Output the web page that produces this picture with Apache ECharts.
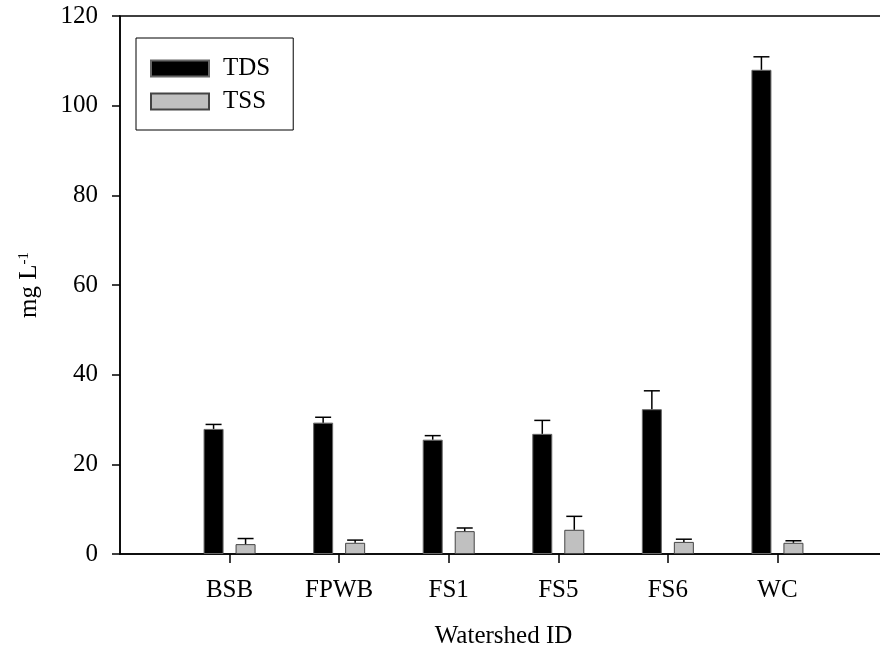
<!DOCTYPE html>
<html>
<head>
<meta charset="utf-8">
<script src="https://cdn.jsdelivr.net/npm/echarts@6/dist/echarts.min.js"></script>
<style>
  html, body { margin: 0; padding: 0; background: #fff; overflow: hidden; }
  /* the frame runs past the right edge of the window, so the canvas is a little wider */
  #chart { width: 890px; height: 655px; }
</style>
</head>
<body>
<div id="chart"></div>
<script>
// Watershed sites, padded with empty slots at both ends of the axis
const categories = ['', 'BSB', 'FPWB', 'FS1', 'FS5', 'FS6', 'WC', ''];

// Mean concentrations (mg/L) and their standard errors
const tdsMean = [null, 27.9, 29.3, 25.5, 26.8, 32.3, 108.0, null];
const tdsErr  = [null, 1.0, 1.2, 0.9, 3.0, 4.1, 2.9, null];
const tssMean = [null, 2.2, 2.5, 5.1, 5.4, 2.7, 2.5, null];
const tssErr  = [null, 1.25, 0.6, 0.7, 3.0, 0.6, 0.45, null];

const yTicks = [0, 20, 40, 60, 80, 100, 120];

const FONT = "'Liberation Serif', 'Times New Roman', serif";
const FS = 25;
const BAR_W = 20;
const BAR_GAP = 0.6;
const CAP_W = 16;

function errorBars(means, errs, side) {
  const data = means.map((m, i) => (m == null ? null : [i, m, errs[i]])).filter(d => d);
  const shift = side * (BAR_W * (1 + BAR_GAP)) / 2;
  return {
    type: 'custom',
    silent: true,
    z: 5,
    data: data,
    renderItem: function (params, api) {
      const i = api.value(0);
      const lo = api.coord([i, api.value(1)]);
      const hi = api.coord([i, api.value(1) + api.value(2)]);
      const x = lo[0] + shift;
      const style = { stroke: '#000', lineWidth: 1.5 };
      return {
        type: 'group',
        children: [
          { type: 'line', shape: { x1: x, y1: lo[1], x2: x, y2: hi[1] }, style: style },
          { type: 'line', shape: { x1: x - CAP_W / 2, y1: hi[1], x2: x + CAP_W / 2, y2: hi[1] }, style: style }
        ]
      };
    }
  };
}

const chart = echarts.init(document.getElementById('chart'), null, { renderer: 'canvas' });

chart.setOption({
  animation: false,
  backgroundColor: '#fff',
  textStyle: { fontFamily: FONT, color: '#000' },
  grid: {
    left: 120, right: 0, top: 16, bottom: 101,
    show: true, borderColor: '#000', borderWidth: 1.5, backgroundColor: 'transparent'
  },
  legend: {
    left: 136, top: 38,
    orient: 'vertical',
    padding: [18, 23, 16, 14],
    itemWidth: 58, itemHeight: 16, itemGap: 8,
    borderColor: '#000', borderWidth: 1,
    icon: 'rect',
    textStyle: { fontFamily: FONT, fontSize: FS, lineHeight: 16, color: '#000', padding: [0, 0, 0, 9] },
    data: ['TDS', 'TSS']
  },
  xAxis: {
    type: 'category',
    data: categories,
    boundaryGap: false,
    name: 'Watershed ID',
    nameLocation: 'middle',
    nameGap: 70,
    nameTextStyle: { fontFamily: FONT, fontSize: FS, color: '#000' },
    axisLine: { lineStyle: { color: '#000', width: 1.5 } },
    axisTick: {
      length: 9, inside: false, lineStyle: { color: '#000', width: 1.5 },
      interval: function (idx) { return idx > 0 && idx < categories.length - 1; }
    },
    axisLabel: { fontFamily: FONT, fontSize: FS, color: '#000', margin: 24, interval: 0 },
    splitLine: { show: false }
  },
  yAxis: {
    type: 'value',
    min: yTicks[0], max: yTicks[yTicks.length - 1], interval: 20,
    name: 'mg L{sup|-1}',
    nameLocation: 'middle',
    nameGap: 78,
    nameRotate: 90,
    nameTextStyle: {
      fontFamily: FONT, fontSize: FS, color: '#000',
      rich: { sup: { fontFamily: FONT, fontSize: 15, verticalAlign: 'top', lineHeight: 14, padding: [0, 0, 14, 0] } }
    },
    axisLine: { show: true, lineStyle: { color: '#000', width: 1.5 } },
    axisTick: { show: true, length: 8, inside: false, lineStyle: { color: '#000', width: 1.5 } },
    axisLabel: { fontFamily: FONT, fontSize: FS, color: '#000', margin: 22 },
    splitLine: { show: false }
  },
  series: [
    {
      name: 'TDS', type: 'bar', data: tdsMean,
      barWidth: BAR_W, barGap: (BAR_GAP * 100) + '%',
      itemStyle: { color: '#000', borderColor: '#666', borderWidth: 1 }
    },
    {
      name: 'TSS', type: 'bar', data: tssMean,
      barWidth: BAR_W,
      itemStyle: { color: '#c0c0c0', borderColor: '#444', borderWidth: 1 }
    },
    errorBars(tdsMean, tdsErr, -1),
    errorBars(tssMean, tssErr, 1)
  ]
});
</script>
</body>
</html>
